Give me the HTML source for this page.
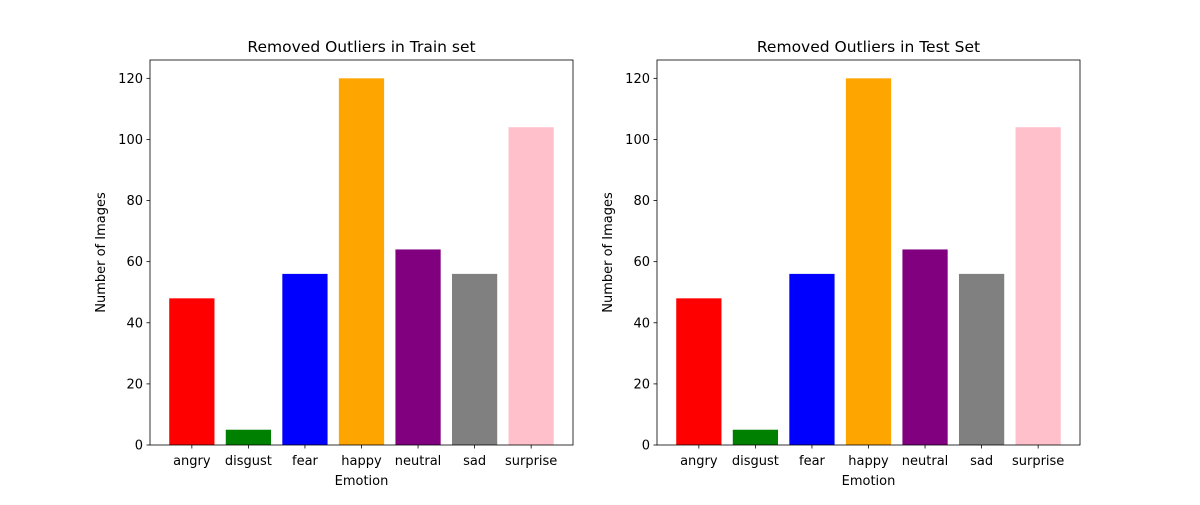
<!DOCTYPE html>
<html><head><meta charset="utf-8"><style>
body{margin:0;background:#fff;font-family:"Liberation Sans","DejaVu Sans",sans-serif;}
svg text{font-family:"DejaVu Sans","Liberation Sans",sans-serif;}
</style></head><body>
<svg id="fig" width="1200" height="500" xmlns="http://www.w3.org/2000/svg"></svg>
<script>
const categories = ["angry","disgust","fear","happy","neutral","sad","surprise"];
const trainValues = [48,5,56,120,64,56,104];
const testValues = [48,5,56,120,64,56,104];
const barColors = ["red","green","blue","orange","purple","gray","pink"];
const yTicks = [0,20,40,60,80,100,120];
const titles = ["Removed Outliers in Train set","Removed Outliers in Test Set"];

const NS="http://www.w3.org/2000/svg";
const svg=document.getElementById('fig');
function mk(tag,attrs,parent){const e=document.createElementNS(NS,tag);for(const k in attrs)e.setAttribute(k,attrs[k]);(parent||svg).appendChild(e);return e;}
const panels=[{x0:150,vals:trainValues,name:'train'},{x0:657,vals:testValues,name:'test'}];
const W=423,plotTop=60,plotBottom=445,ymax=126,xmin=-0.74,xmax=6.74;
panels.forEach((p,pi)=>{
  const g=mk('g',{});
  
  
  const xs=v=>p.x0+(v-xmin)/(xmax-xmin)*W;
  const ys=v=>plotBottom-v/ymax*(plotBottom-plotTop);
  p.vals.forEach((v,i)=>{
    const r=mk('rect',{x:xs(i-0.4),y:ys(v),width:xs(i+0.4)-xs(i-0.4),height:ys(0)-ys(v),fill:barColors[i]},g);
    
    
    mk('line',{x1:xs(i),x2:xs(i),y1:plotBottom,y2:plotBottom+3.5,stroke:'#000','stroke-width':0.8},g);
    const t=mk('text',{x:xs(i),y:plotBottom+20,'text-anchor':'middle','font-size':13},g);
    t.textContent=categories[i];
    
    
  });
  yTicks.forEach(v=>{
    mk('line',{x1:p.x0-3.5,x2:p.x0,y1:ys(v),y2:ys(v),stroke:'#000','stroke-width':0.8},g);
    const t=mk('text',{x:p.x0-7,y:ys(v)+4.5,'text-anchor':'end','font-size':13},g);
    t.textContent=v;
    
    
  });
  mk('rect',{x:p.x0,y:plotTop,width:W,height:plotBottom-plotTop,fill:'none',stroke:'#000','stroke-width':0.8},g);
  const tt=mk('text',{x:p.x0+W/2,y:plotTop-8,'text-anchor':'middle','font-size':15.5},g);
  tt.textContent=titles[pi];
  
  
  const xl=mk('text',{x:p.x0+W/2,y:plotBottom+40,'text-anchor':'middle','font-size':13},g);
  xl.textContent='Emotion';
  
  
  const yl=mk('text',{x:0,y:0,'text-anchor':'middle','font-size':13,transform:`translate(${p.x0-45},${(plotTop+plotBottom)/2}) rotate(-90)`},g);
  yl.textContent='Number of Images';
  
  
});
</script>
</body></html>
